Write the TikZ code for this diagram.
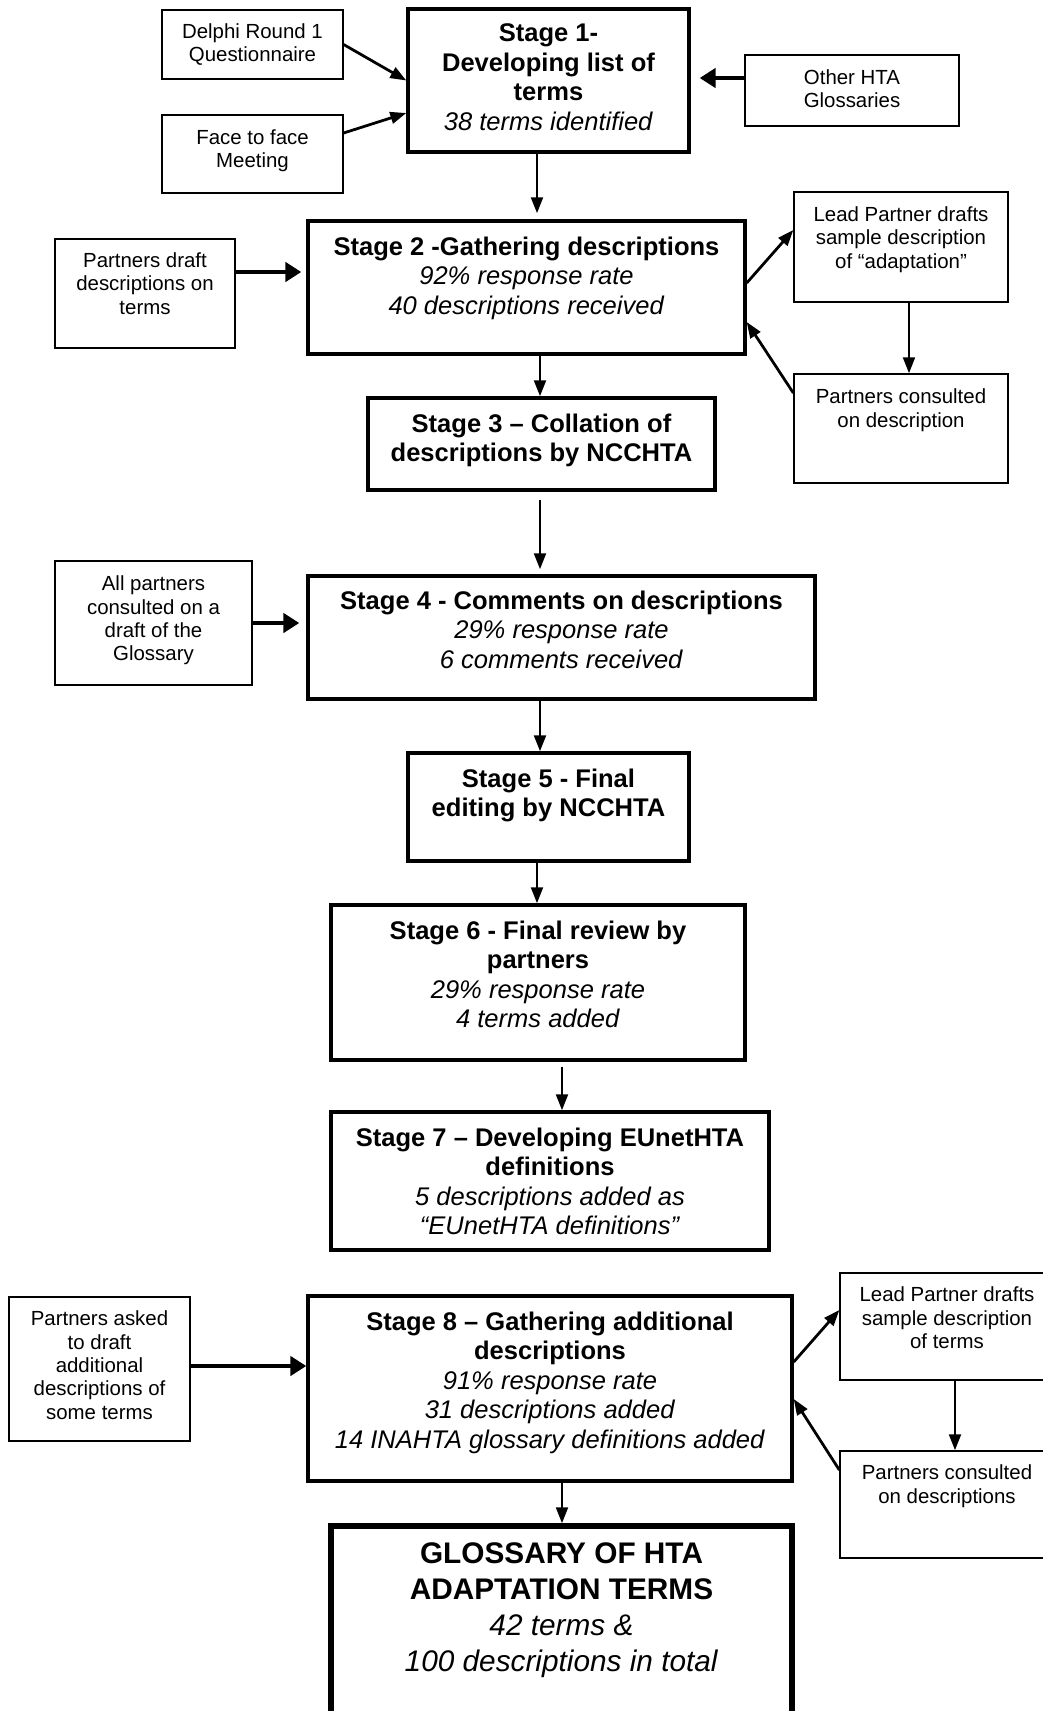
\documentclass[tikz,border=0pt]{standalone}
\usepackage{fontspec}
\setmainfont{Liberation Sans}
\usetikzlibrary{positioning}
\usetikzlibrary{calc}
\usetikzlibrary{arrows.meta}
\newdimen\pxu
\pxu=0.47pt

\begin{document}
\begin{tikzpicture}[
    x=0.47pt, y=-0.47pt,
    STG/.style={rectangle, draw=black, line width=1.6pt, inner sep=0pt},
    NOTE/.style={rectangle, draw=black, line width=0.6pt, inner sep=0pt},
    STGTXT/.style={align=center, inner sep=0pt, font=\fontsize{12}{13.9}\selectfont},
    NOTETXT/.style={align=center, inner sep=0pt, font=\fontsize{9.6}{11}\selectfont},
    ARR/.style={-{Triangle[length=7.5pt, width=5.5pt]}, line width=1.3pt},
    FAT/.style={-{Triangle[length=7.5pt, width=9pt]}, line width=2pt},
    ]
    \useasboundingbox (0,0) rectangle (1043,1711);
    \clip (0,0) rectangle (1043,1711);

    % stages
    \node[STG, minimum width=281\pxu, minimum height=143\pxu] (stage1) at (548.5,80.5) {};
    \node[STGTXT, below=16\pxu of stage1.north] {\textbf{Stage 1-}\\ \textbf{Developing list of}\\ \textbf{terms}\\ \textit{38 terms identified}};

    \node[STG, minimum width=437\pxu, minimum height=133\pxu] (stage2) at (526.5,287.5) {};
    \node[STGTXT, below=17\pxu of stage2.north] {\textbf{Stage 2 -Gathering descriptions}\\ \textit{92\% response rate}\\ \textit{40 descriptions received}};

    \node[STG, minimum width=347\pxu, minimum height=92\pxu] (stage3) at (541.5,444) {};
    \node[STGTXT, below=17\pxu of stage3.north] {\textbf{Stage 3 – Collation of}\\ \textbf{descriptions by NCCHTA}};

    \node[STG, minimum width=507\pxu, minimum height=123\pxu] (stage4) at (561.5,637.5) {};
    \node[STGTXT, below=16\pxu of stage4.north] {\textbf{Stage 4 - Comments on descriptions}\\ \textit{29\% response rate}\\ \textit{6 comments received}};

    \node[STG, minimum width=281\pxu, minimum height=108\pxu] (stage5) at (548.5,807) {};
    \node[STGTXT, below=17\pxu of stage5.north] {\textbf{Stage 5 - Final}\\ \textbf{editing by NCCHTA}};

    \node[STG, minimum width=414\pxu, minimum height=155\pxu] (stage6) at (538,982.5) {};
    \node[STGTXT, below=17\pxu of stage6.north] {\textbf{Stage 6 - Final review by}\\ \textbf{partners}\\ \textit{29\% response rate}\\ \textit{4 terms added}};

    \node[STG, minimum width=438\pxu, minimum height=138\pxu] (stage7) at (550,1181) {};
    \node[STGTXT, below=17\pxu of stage7.north] {\textbf{Stage 7 – Developing EUnetHTA}\\ \textbf{definitions}\\ \textit{5 descriptions added as}\\ \textit{“EUnetHTA definitions”}};

    \node[STG, minimum width=484\pxu, minimum height=185\pxu] (stage8) at (550,1388.5) {};
    \node[STGTXT, below=17\pxu of stage8.north] {\textbf{Stage 8 – Gathering additional}\\ \textbf{descriptions}\\ \textit{91\% response rate}\\ \textit{31 descriptions added}\\ \textit{14 INAHTA glossary definitions added}};

    \node[STG, line width=2.5pt, minimum width=461\pxu, minimum height=274\pxu] (gloss) at (561.5,1663) {};
    \node[align=center, inner sep=0pt, font=\fontsize{14}{16.9}\selectfont, below=19\pxu of gloss.north] {\textbf{GLOSSARY OF HTA}\\ \textbf{ADAPTATION TERMS}\\ \textit{42 terms \&}\\ \textit{100 descriptions in total}};

    % side notes
    \node[NOTE, minimum width=181\pxu, minimum height=69\pxu] (delphi) at (252.5,44.5) {};
    \node[NOTETXT, below=14\pxu of delphi.north] {Delphi Round 1\\ Questionnaire};

    \node[NOTE, minimum width=181\pxu, minimum height=78\pxu] (face) at (252.5,154) {};
    \node[NOTETXT, below=15\pxu of face.north] {Face to face\\ Meeting};

    \node[NOTE, minimum width=214\pxu, minimum height=71\pxu] (other) at (852,90.5) {};
    \node[NOTETXT, below=15\pxu of other.north] {Other HTA\\ Glossaries};

    \node[NOTE, minimum width=180\pxu, minimum height=109\pxu] (draft) at (145,293.5) {};
    \node[NOTETXT, below=14\pxu of draft.north] {Partners draft\\ descriptions on\\ terms};

    \node[NOTE, minimum width=214\pxu, minimum height=110\pxu] (lead1) at (901,247) {};
    \node[NOTETXT, below=15\pxu of lead1.north] {Lead Partner drafts\\ sample description\\ of “adaptation”};

    \node[NOTE, minimum width=214\pxu, minimum height=109\pxu] (cons1) at (901,428.5) {};
    \node[NOTETXT, below=15\pxu of cons1.north] {Partners consulted\\ on description};

    \node[NOTE, minimum width=197\pxu, minimum height=124\pxu] (allp) at (153.5,623) {};
    \node[NOTETXT, below=15\pxu of allp.north] {All partners\\ consulted on a\\ draft of the\\ Glossary};

    \node[NOTE, minimum width=181\pxu, minimum height=144\pxu] (asked) at (99.5,1369) {};
    \node[NOTETXT, below=14\pxu of asked.north] {Partners asked\\ to draft\\ additional\\ descriptions of\\ some terms};

    \node[NOTE, minimum width=214\pxu, minimum height=107\pxu] (lead2) at (947,1326.5) {};
    \node[NOTETXT, below=14\pxu of lead2.north] {Lead Partner drafts\\ sample description\\ of terms};

    \node[NOTE, minimum width=214\pxu, minimum height=107\pxu] (cons2) at (947,1504.5) {};
    \node[NOTETXT, below=14\pxu of cons2.north] {Partners consulted\\ on descriptions};

    % connectors
    \draw[ARR] (delphi.east) -- (stage1.west);
    \draw[ARR] ([yshift=21\pxu]face.east) -- ([yshift=-32.5\pxu]stage1.west);
    \draw[FAT, shorten >=9\pxu] ([yshift=12.5\pxu]other.west) -- ([yshift=2.5\pxu]stage1.east);
    \draw[ARR, shorten >=6\pxu] ([xshift=-11.5\pxu]stage1.south) -- ([xshift=10.5\pxu]stage2.north);
    \draw[FAT, shorten >=5\pxu] ([yshift=21.5\pxu]draft.east) -- ([yshift=15.5\pxu]stage2.west);
    \draw[ARR] ([yshift=4.5\pxu]stage2.east) -- ([yshift=17\pxu]lead1.west);
    \draw[ARR] ([xshift=8\pxu]lead1.south) -- ([xshift=8\pxu]cons1.north);
    \draw[ARR] ([yshift=35.5\pxu]cons1.west) -- ([yshift=-34.5\pxu]stage2.east);
    \draw[ARR] ([xshift=13.5\pxu]stage2.south) -- ([xshift=-1.5\pxu]stage3.north);
    \draw[ARR, shorten <=8\pxu, shorten >=5\pxu] ([xshift=-1.5\pxu]stage3.south) -- ([xshift=-21.5\pxu]stage4.north);
    \draw[FAT, shorten >=7\pxu] (allp.east) -- ([yshift=14.5\pxu]stage4.west);
    \draw[ARR] ([xshift=-21.5\pxu]stage4.south) -- ([xshift=-8.5\pxu]stage5.north);
    \draw[ARR] ([xshift=-11.5\pxu]stage5.south) -- ([xshift=-1\pxu]stage6.north);
    \draw[ARR, shorten <=5\pxu] ([xshift=24\pxu]stage6.south) -- ([xshift=12\pxu]stage7.north);
    \draw[FAT] ([yshift=3\pxu]asked.east) -- ([yshift=22.5\pxu]stage8.west);
    \draw[ARR] ([yshift=26.5\pxu]stage8.east) -- ([yshift=16.5\pxu]lead2.west);
    \draw[ARR] ([xshift=8\pxu]lead2.south) -- ([xshift=8\pxu]cons2.north);
    \draw[ARR] ([yshift=34.5\pxu]cons2.west) -- ([yshift=-10.5\pxu]stage8.east);
    \draw[ARR] ([xshift=12\pxu]stage8.south) -- ([xshift=0.5\pxu]gloss.north);
\end{tikzpicture}
\end{document}
